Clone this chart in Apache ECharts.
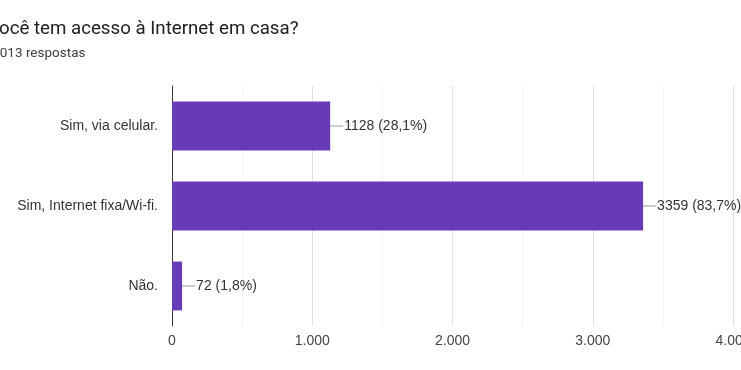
<!DOCTYPE html>
<html><head><meta charset="utf-8">
<script src="https://cdn.jsdelivr.net/npm/echarts@6/dist/echarts.min.js"></script>
<style>html,body{margin:0;padding:0;background:#fff}#c{width:741px;height:370px}</style>
</head><body><div id="c"></div>
<script>
const categories = ['Sim, via celular.', 'Sim, Internet fixa/Wi-fi.', 'Não.'];
const values = [1128, 3359, 72];
const percents = ['28,1%', '83,7%', '1,8%'];
const tickLabels = ['0', '1.000', '2.000', '3.000', '4.000'];
const titleText = 'Você tem acesso à Internet em casa?';
const subtitleText = '4013 respostas';

const chart = echarts.init(document.getElementById('c'));
chart.setOption({
  animation: false,
  title: [{
    text: titleText, left: -12.5, top: 20, padding: 0,
    textStyle: {fontFamily: 'Roboto', fontSize: 18.7, fontWeight: 'normal', color: '#202124'}
  }, {
    text: subtitleText, left: -7.8, top: 47, padding: 0,
    textStyle: {fontFamily: 'Roboto', fontSize: 13.5, fontWeight: 'normal', color: '#3c4043'}
  }],
  grid: {left: 172, right: 8, top: 86, bottom: 44, containLabel: false, outerBoundsMode: 'none'},
  xAxis: {
    type: 'value', min: 0, max: 4000, interval: 1000,
    axisLine: {show: false}, axisTick: {show: false},
    axisLabel: {fontFamily: 'Liberation Sans', fontSize: 14, color: '#444', margin: 8,
      formatter: (v) => tickLabels[Math.round(v / 1000)]},
    splitLine: {show: true, lineStyle: {color: '#e0e0e0'}},
    minorTick: {show: false, splitNumber: 2},
    minorSplitLine: {show: true, lineStyle: {color: '#f3f3f3'}}
  },
  yAxis: {
    type: 'category', data: categories, inverse: true,
    axisLine: {show: true, lineStyle: {color: '#333', width: 1}},
    axisTick: {show: false},
    axisLabel: {fontFamily: 'Liberation Sans', fontSize: 14, color: '#333', margin: 14}
  },
  series: [{
    type: 'bar', data: values, barWidth: '61%',
    itemStyle: {color: '#673ab7'},
    label: {
      show: true, position: 'right', distance: 0,
      formatter: (p) => '{l|}{t|' + p.value + ' (' + percents[p.dataIndex] + ')}',
      rich: {
        l: {width: 13, height: 1, backgroundColor: '#999'},
        t: {fontFamily: 'Liberation Sans', fontSize: 14, color: '#333', padding: [0, 0, 0, 1]}
      }
    }
  }]
});
</script></body></html>
